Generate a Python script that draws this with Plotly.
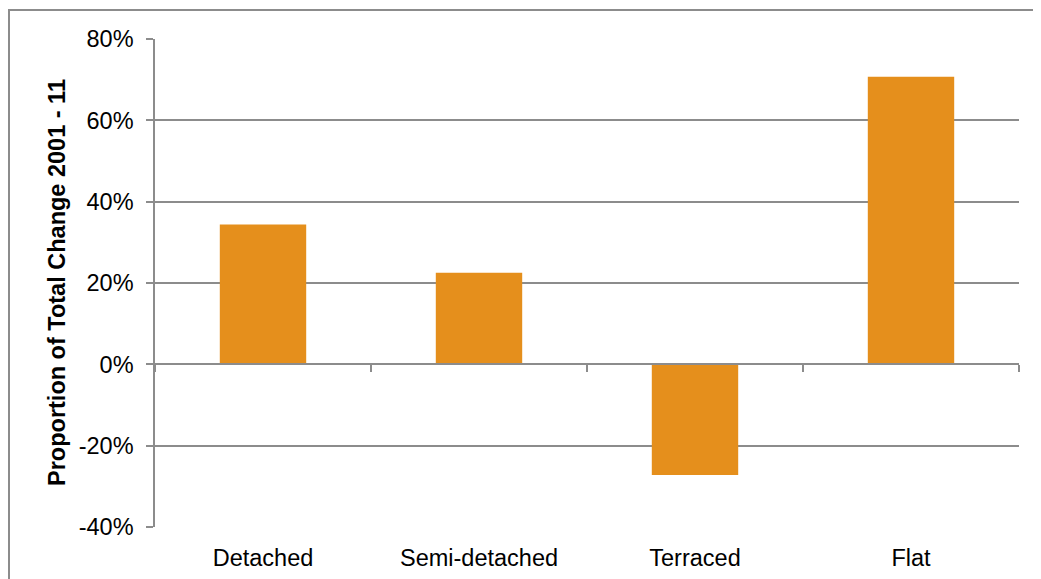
import plotly.graph_objects as go

categories = ["Detached", "Semi-detached", "Terraced", "Flat"]
values = [0.344, 0.225, -0.272, 0.707]
y_ticks = [-0.4, -0.2, 0.0, 0.2, 0.4, 0.6, 0.8]
y_tick_labels = ["-40%", "-20%", "0%", "20%", "40%", "60%", "80%"]
y_title = "Proportion of Total Change 2001 - 11"

BAR = "#E58F1C"
GRID = "#8C8C8C"
FONT = "Liberation Sans, Arial, sans-serif"

# page body adds an 8px offset; margins compensate
L, T = 147, 31
PW, PH = 864, 488

fig = go.Figure()
fig.add_trace(go.Bar(x=categories, y=values, marker=dict(color=BAR, line=dict(width=0)),
                     hoverinfo="skip", showlegend=False))
fig.add_trace(go.Scatter(x=categories, y=values, xaxis="x2", mode="markers",
                         marker=dict(opacity=0), hoverinfo="skip", showlegend=False))

fig.update_layout(
    width=1041, height=579,
    margin=dict(l=L, r=1041 - L - PW, t=T, b=579 - T - PH),
    paper_bgcolor="white", plot_bgcolor="white",
    bargap=0.6,
    font=dict(family=FONT, size=23.5, color="black"),
    xaxis=dict(type="category", categoryarray=categories, range=[-0.5, 3.5],
               showgrid=False, zeroline=False, showline=False, ticks="",
               tickfont=dict(size=23.5), ticklabelstandoff=14),
    xaxis2=dict(type="category", categoryarray=categories, range=[-0.5, 3.5],
                overlaying="x", anchor="free", position=1/3,
                showgrid=False, zeroline=False, showline=True, linecolor=GRID, linewidth=1.5,
                ticks="outside", tickson="boundaries", ticklen=7, tickcolor=GRID, tickwidth=1.5,
                showticklabels=False),
    yaxis=dict(range=[-0.4, 0.8], tickvals=y_ticks, ticktext=y_tick_labels,
               showgrid=True, gridcolor=GRID, gridwidth=1.5,
               zeroline=False, showline=True, linecolor=GRID, linewidth=1.5,
               ticks="outside", ticklen=7, tickcolor=GRID, tickwidth=1.5,
               ticklabelstandoff=8, tickfont=dict(size=23.5)),
    annotations=[dict(text="<b>" + y_title + "</b>", textangle=-90, showarrow=False,
                      xref="paper", yref="paper", x=(49 - L) / PW, y=0.5,
                      xanchor="center", yanchor="middle", font=dict(size=23.5, family=FONT))],
    shapes=[dict(type="rect", xref="paper", yref="paper",
                 x0=(1 - L) / PW, x1=1.2, y0=-0.3, y1=1 + 29 / PH,
                 line=dict(color=GRID, width=2), fillcolor="rgba(0,0,0,0)", layer="below")],
)

fig.write_html("out.html")
